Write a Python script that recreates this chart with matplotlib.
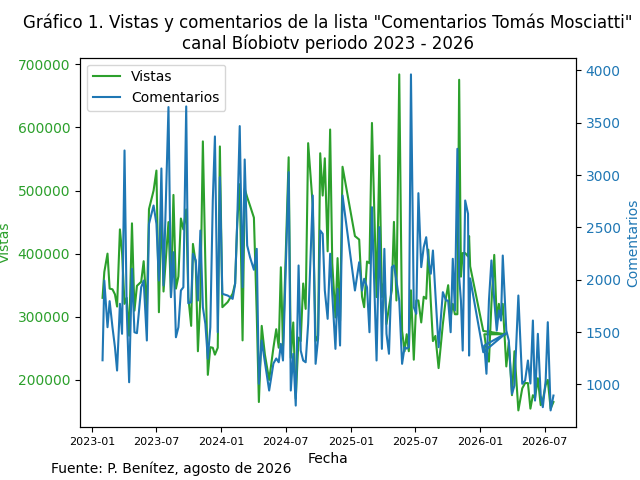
import pandas as pd
import matplotlib
matplotlib.use("Agg")
import matplotlib.pyplot as plt
import matplotlib.dates as mdates

# fechas de publicación (orden de la lista, no siempre cronológico)
fechas = [
    "2023-01-31", "2023-02-05", "2023-02-14", "2023-02-20", "2023-02-28", "2023-03-07",
    "2023-03-13", "2023-03-21", "2023-03-27", "2023-04-03", "2023-04-09", "2023-04-16",
    "2023-04-24", "2023-05-01", "2023-05-08", "2023-05-20", "2023-05-27", "2023-06-05",
    "2023-06-11", "2023-06-24", "2023-07-02", "2023-07-09", "2023-07-16", "2023-07-22",
    "2023-08-05", "2023-08-12", "2023-08-19", "2023-08-26", "2023-09-02", "2023-09-09",
    "2023-09-16", "2023-09-24", "2023-09-30", "2023-10-08", "2023-10-13", "2023-10-21",
    "2023-10-27", "2023-11-03", "2023-11-10", "2023-11-17", "2023-11-24", "2023-12-01",
    "2023-12-08", "2023-12-14", "2023-12-22", "2023-12-28", "2024-01-04", "2024-01-19",
    "2024-02-02", "2024-02-09", "2024-02-15", "2024-02-22", "2024-03-01", "2024-03-07",
    "2024-03-14", "2024-03-22", "2024-04-02", "2024-04-10", "2024-04-16", "2024-04-24",
    "2024-05-03", "2024-05-15", "2024-05-27", "2024-06-04", "2024-06-11", "2024-06-17",
    "2024-06-23", "2024-07-09", "2024-07-15", "2024-07-22", "2024-07-29", "2024-08-06",
    "2024-08-12", "2024-08-19", "2024-08-26", "2024-09-02", "2024-09-15", "2024-09-23",
    "2024-09-30", "2024-10-06", "2024-10-13", "2024-10-19", "2024-10-27", "2024-11-03",
    "2024-11-09", "2024-11-18", "2024-11-24", "2024-12-01", "2024-12-08", "2025-01-12",
    "2025-01-24", "2025-02-01", "2025-02-07", "2025-02-15", "2025-02-22", "2025-03-01",
    "2025-03-14", "2025-03-22", "2025-03-29", "2025-04-05", "2025-04-11", "2025-04-18",
    "2025-04-26", "2025-05-02", "2025-05-09", "2025-05-17", "2025-05-25", "2025-06-01",
    "2025-06-07", "2025-06-13", "2025-06-19", "2025-06-27", "2025-07-04", "2025-07-10",
    "2025-07-18", "2025-07-25", "2025-08-01", "2025-08-07", "2025-08-14", "2025-08-20",
    "2025-08-27", "2025-09-05", "2025-09-17", "2025-09-26", "2025-10-02", "2025-10-09",
    "2025-10-15", "2025-10-21", "2025-10-28", "2025-11-02", "2025-11-07", "2025-11-12",
    "2025-11-19", "2025-11-27", "2025-11-30", "2025-12-03", "2026-01-09", "2026-03-13",
    "2026-01-12", "2026-01-18", "2026-01-25", "2026-02-01", "2026-02-09", "2026-02-16",
    "2026-02-22", "2026-02-28", "2026-03-05", "2026-03-15", "2026-03-22", "2026-03-31",
    "2026-04-07", "2026-04-18", "2026-04-29", "2026-05-07", "2026-05-15", "2026-05-22",
    "2026-05-29", "2026-06-04", "2026-06-12", "2026-06-20", "2026-06-26", "2026-07-04",
    "2026-07-10", "2026-07-18", "2026-07-26",
]

vistas = [
    330000, 371000, 400000, 344600, 343500, 335500, 316200, 438400, 402000, 320500,
    330000, 270000, 448000, 309700, 349000, 355400, 388000, 310000, 470500, 500000,
    531600, 307200, 480000, 340000, 450000, 331700, 493000, 344600, 364000, 455600,
    438400, 470000, 331200, 285600, 415400, 384800, 245400, 330000, 577800, 384800,
    208000, 251800, 250900, 240000, 251000, 569800, 315200, 323300, 336600, 352700,
    449200, 510000, 262600, 502700, 489400, 476000, 457000, 304000, 165000, 285600,
    240000, 200000, 251000, 280300, 251000, 378400, 253500, 552600, 234800, 291000,
    170500, 267000, 261500, 352700, 312500, 575000, 476000, 261500, 270000, 559000,
    492000, 551000, 403700, 596600, 384800, 299000, 392900, 293600, 537600, 427800,
    422300, 331800, 315200, 387500, 384800, 607000, 331200, 555300, 331200, 358000,
    288400, 315200, 341900, 450300, 325800, 683900, 277500, 245400, 272300, 245400,
    341900, 232000, 325800, 325800, 291000, 331700, 328600, 406300, 323300, 261500,
    269700, 218700, 288400, 331200, 350000, 299000, 320500, 304000, 304000, 675400,
    363500, 400900, 400900, 395500, 427800, 380000, 277500, 272300, 272300, 248000,
    229000, 320500, 398000, 296000, 320500, 301000, 320500, 221300, 259400, 175800,
    245400, 151700, 186600, 195000, 195000, 154500, 175800, 171000, 202600, 160000,
    168000, 192000, 200000, 154500, 165000,
]

comentarios = [
    1230, 1992, 1546, 1795, 1546, 1355, 1132, 1770, 1483, 3235,
    1737, 1020, 2104, 1498, 1489, 1928, 1992, 1419, 2534, 2709,
    2534, 1992, 3063, 1945, 3650, 1833, 2263, 1450, 1546, 1897,
    1928, 3656, 1775, 1785, 2248, 2184, 1801, 2470, 1737, 1578,
    1244, 1546, 2757, 3369, 1498, 2980, 1865, 1849, 1817, 1961,
    2566, 3468, 1928, 3149, 2327, 2215, 2095, 2295, 1005, 1419,
    1211, 941, 1199, 1247, 1211, 1387, 1228, 3028, 941, 1292,
    797, 2136, 1323, 1228, 1211, 1578, 2805, 1196, 1435, 2470,
    2439, 1897, 1626, 2248, 1865, 1339, 1913, 1371, 2805, 1897,
    2167, 1897, 2009, 1928, 1498, 2693, 1228, 2502, 1339, 2295,
    1483, 1292, 2120, 2136, 1992, 1800, 1196, 1355, 1342, 1355,
    3962, 1737, 1674, 2827, 2120, 2311, 2406, 2184, 2057, 2279,
    1865, 1355, 1881, 1801, 1801, 1498, 2200, 1706, 3251, 2024,
    1800, 1323, 2757, 2630, 1275, 2012, 1307, 1486, 1371, 1101,
    1801, 2184, 1801, 1514, 1706, 1610, 2231, 1514, 1419, 909,
    989, 1849, 1005, 1036, 1228, 1008, 1610, 845, 1483, 893,
    782, 1036, 1594, 751, 893,
]

fechas = pd.to_datetime(fechas)

fig, ax1 = plt.subplots(figsize=(6.4, 4.8), dpi=100)
ax2 = ax1.twinx()

l1, = ax1.plot(fechas, vistas, color="tab:green", label="Vistas")
l2, = ax2.plot(fechas, comentarios, color="tab:blue", label="Comentarios")

ax1.set_xlabel("Fecha")
ax1.set_ylabel("Vistas", color="tab:green")
ax2.set_ylabel("Comentarios", color="tab:blue")
ax1.tick_params(axis="y", labelcolor="tab:green")
ax2.tick_params(axis="y", labelcolor="tab:blue")

ax1.xaxis.set_major_locator(mdates.MonthLocator(bymonth=[1, 7]))
ax1.xaxis.set_major_formatter(mdates.DateFormatter("%Y-%m"))
ax1.tick_params(axis="x", labelsize=8)

ax1.legend(handles=[l1, l2], loc="upper left")
plt.title('Gráfico 1. Vistas y comentarios de la lista "Comentarios Tomás Mosciatti"\n'
          'canal Bíobiotv periodo 2023 - 2026')
fig.text(0.08, 0.015, "Fuente: P. Benítez, agosto de 2026", fontsize=10)

fig.savefig("out.png")
